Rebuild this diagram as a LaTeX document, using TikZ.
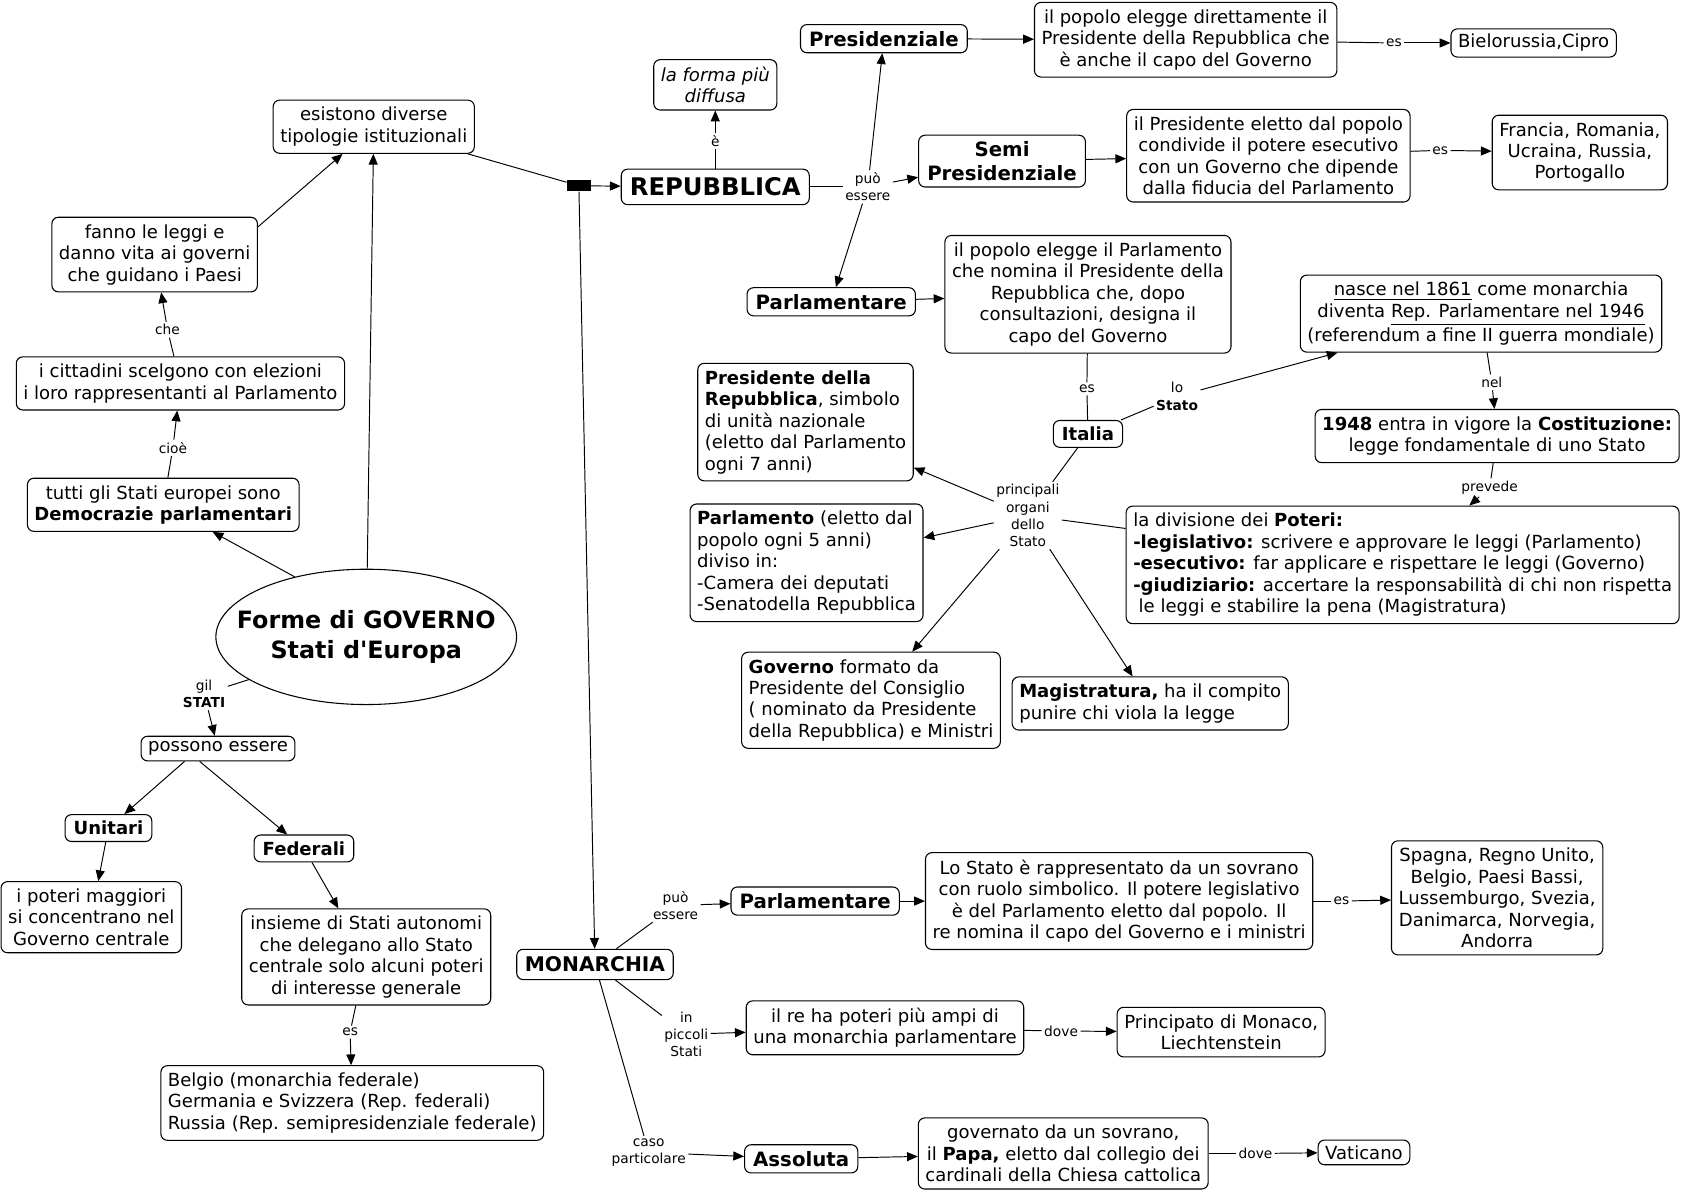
\documentclass[tikz,border=0pt]{standalone}
\usepackage{fontspec}
\setmainfont{DejaVu Sans}
\usetikzlibrary{arrows.meta,shapes.geometric}
\begin{document}
\begin{tikzpicture}[x=0.5pt,y=-0.5pt,
 box/.style={draw,rounded corners=3pt,line width=0.5pt,inner xsep=3.3pt,inner ysep=3.3pt,font=\fontsize{8.4}{10}\selectfont,align=center},
 lbox/.style={box,align=left},
 bbox/.style={box,font=\fontsize{8.4}{10}\selectfont\bfseries,inner xsep=4pt,inner ysep=3pt},
 head/.style={box,font=\fontsize{9.2}{11}\selectfont\bfseries,inner xsep=4pt,inner ysep=3pt},
 lbl/.style={inner sep=1pt,font=\fontsize{6.4}{8}\selectfont,align=center},
 ln/.style={line width=0.45pt},
 arr/.style={ln,-{Triangle[length=5pt,width=4.2pt]}}]

\useasboundingbox (0,0) rectangle (1568,1110);

% ---------- left part ----------
\node[box] (esist) at (348,118) {esistono diverse\\tipologie istituzionali};
\node[box] (fanno) at (144,237) {fanno le leggi e\\danno vita ai governi\\che guidano i Paesi};
\node[box] (citt) at (168,357) {i cittadini scelgono con elezioni\\i loro rappresentanti al Parlamento};
\node[box] (tutti) at (152,470) {tutti gli Stati europei sono\\\textbf{Democrazie parlamentari}};
\node[draw,ellipse,line width=0.5pt,minimum width=140pt,minimum height=63pt,inner sep=0pt,
  label={[align=center,font=\fontsize{11.1}{14}\selectfont\bfseries]center:Forme di GOVERNO\\Stati d\textquotesingle Europa}] (forme) at (341,593) {};
\node[box,inner ysep=2.5pt] (poss) at (203,697) {possono essere};
\node[bbox] (unit) at (101,771) {Unitari};
\node[bbox] (fed) at (283,790) {Federali};
\node[box] (poteri) at (85,854) {i poteri maggiori\\si concentrano nel\\Governo centrale};
\node[box] (insieme) at (341,891) {insieme di Stati autonomi\\che delegano allo Stato\\centrale solo alcuni poteri\\di interesse generale};
\node[lbox] (belgio) at (328,1027) {Belgio (monarchia federale)\\Germania e Svizzera (Rep. federali)\\Russia (Rep. semipresidenziale federale)};

% ---------- junction ----------
\node[fill=black,minimum width=11pt,minimum height=5pt,inner sep=0pt] (junc) at (539,173) {};

% ---------- repubblica ----------
\node[head,font=\fontsize{11.3}{13}\selectfont\bfseries,inner ysep=4pt] (rep) at (666,174) {REPUBBLICA};
\node[box,font=\fontsize{8.4}{10}\selectfont\itshape] (forma) at (666,79) {la forma più\\diffusa};
\node[head] (pres) at (823,36) {Presidenziale};
\node[box] (popdir) at (1104,37) {il popolo elegge direttamente il\\Presidente della Repubblica che\\è anche il capo del Governo};
\node[box,inner ysep=2.5pt] (biel) at (1428,40) {Bielorussia,Cipro};
\node[head] (semi) at (933,150) {Semi\\Presidenziale};
\node[box] (presel) at (1181,145) {il Presidente eletto dal popolo\\condivide il potere esecutivo\\con un Governo che dipende\\dalla fiducia del Parlamento};
\node[box] (fran) at (1471,142) {Francia, Romania,\\Ucraina, Russia,\\Portogallo};
\node[head] (parl) at (774,281) {Parlamentare};
\node[box] (popparl) at (1013,274) {il popolo elegge il Parlamento\\che nomina il Presidente della\\Repubblica che, dopo\\consultazioni, designa il\\capo del Governo};
\node[box] (nasce) at (1379,292) {\underline{nasce nel 1861} come monarchia\\diventa \underline{Rep. Parlamentare nel 1946}\\(referendum a fine II guerra mondiale)};
\node[bbox] (italia) at (1013,404) {Italia};
\node[box] (c1948) at (1394,406) {\textbf{1948} entra in vigore la \textbf{Costituzione:}\\legge fondamentale di uno Stato};
\node[lbox] (presrep) at (750,393) {\textbf{Presidente della}\\\textbf{Repubblica}, simbolo\\di unità nazionale\\(eletto dal Parlamento\\ogni 7 anni)};
\node[lbox] (parlam) at (751,524) {\textbf{Parlamento} (eletto dal\\popolo ogni 5 anni)\\diviso in:\\-Camera dei deputati\\-Senatodella Repubblica};
\node[lbox] (divis) at (1306,526) {la divisione dei \textbf{Poteri:}\\\textbf{-legislativo:} scrivere e approvare le leggi (Parlamento)\\\textbf{-esecutivo:} far applicare e rispettare le leggi (Governo)\\\textbf{-giudiziario:} accertare la responsabilità di chi non rispetta\\\hspace*{0.3em}le leggi e stabilire la pena (Magistratura)};
\node[lbox] (gov) at (811,652) {\textbf{Governo} formato da\\Presidente del Consiglio\\( nominato da Presidente\\della Repubblica) e Ministri};
\node[lbox] (magis) at (1071,655) {\textbf{Magistratura,} ha il compito\\punire chi viola la legge};

% ---------- monarchia ----------
\node[head,font=\fontsize{9.4}{11}\selectfont\bfseries,inner xsep=3.8pt,inner ysep=3.5pt] (mon) at (554,898) {MONARCHIA};
\node[head] (parlm) at (759,839) {Parlamentare};
\node[box] (lostato) at (1042,839) {Lo Stato è rappresentato da un sovrano\\con ruolo simbolico. Il potere legislativo\\è del Parlamento eletto dal popolo. Il\\re nomina il capo del Governo e i ministri};
\node[box] (spagna) at (1394,836) {Spagna, Regno Unito,\\Belgio, Paesi Bassi,\\Lussemburgo, Svezia,\\Danimarca, Norvegia,\\Andorra};
\node[box] (ilre) at (824,957) {il re ha poteri più ampi di\\una monarchia parlamentare};
\node[box] (princ) at (1137,961) {Principato di Monaco,\\Liechtenstein};
\node[head] (ass) at (746,1079) {Assoluta};
\node[box] (govern) at (990,1074) {governato da un sovrano,\\il \textbf{Papa,} eletto dal collegio dei\\cardinali della Chiesa cattolica};
\node[box,inner ysep=2.5pt] (vat) at (1270,1073) {Vaticano};

% ---------- link labels ----------
\node[lbl] (lche) at (156,307) {che};
\node[lbl] (lcioe) at (161,417) {cioè};
\node[lbl] (lgil) at (190,646) {gil\\\textbf{STATI}};
\node[lbl] (les1) at (326,961) {es};
\node[lbl] (le) at (666,131) {è};
\node[lbl] (lpuo) at (808,174) {può\\essere};
\node[lbl] (les2) at (1298,40) {es};
\node[lbl] (les3) at (1341,140) {es};
\node[lbl] (les4) at (1012,362) {es};
\node[lbl] (llo) at (1096,369) {lo\\\textbf{Stato}};
\node[lbl] (lnel) at (1389,356) {nel};
\node[lbl] (lprev) at (1387,454) {prevede};
\node[lbl] (lprin) at (957,480) {principali\\organi\\dello\\Stato};
\node[lbl] (lpuo2) at (629,843) {può\\essere};
\node[lbl] (les5) at (1249,839) {es};
\node[lbl] (lpic) at (639,963) {in\\piccoli\\Stati};
\node[lbl] (ldove1) at (988,960) {dove};
\node[lbl] (lcaso) at (604,1073) {caso\\particolare};
\node[lbl] (ldove2) at (1169,1074) {dove};

% ---------- connectors: left ----------
\draw[ln] (citt) -- (lche);
\draw[arr] (lche) -- (fanno);
\draw[ln] (tutti) -- (lcioe);
\draw[arr] (lcioe) -- (citt);
\draw[arr] (fanno.15) -- (esist.221);
\draw[arr] (forme) -- (esist);
\draw[arr] (forme.140) -- (tutti);
\draw[ln] (forme.200) -- (lgil);
\draw[arr] (lgil) -- (poss);
\draw[arr] (poss.201) -- (unit);
\draw[arr] (poss.215) -- (fed);
\draw[arr] (unit) -- (poteri);
\draw[arr] (fed) -- (insieme);
\draw[ln] (insieme) -- (les1);
\draw[arr] (les1) -- (belgio);

% ---------- connectors: junction ----------
\draw[ln] (esist) -- (junc);
\draw[arr] (junc) -- (rep);
\draw[arr] (junc) -- (mon);

% ---------- connectors: repubblica ----------
\draw[ln] (rep) -- (le);
\draw[arr] (le) -- (forma);
\draw[ln] (rep) -- (lpuo);
\draw[arr] (lpuo) -- (pres);
\draw[arr] (lpuo) -- (semi);
\draw[arr] (lpuo) -- (parl);
\draw[arr] (pres) -- (popdir);
\draw[ln] (popdir) -- (les2);
\draw[arr] (les2) -- (biel);
\draw[arr] (semi) -- (presel);
\draw[ln] (presel) -- (les3);
\draw[arr] (les3) -- (fran);
\draw[arr] (parl) -- (popparl);
\draw[ln] (popparl) -- (les4);
\draw[ln] (les4) -- (italia);
\draw[ln] (italia) -- (llo);
\draw[arr] (llo) -- (nasce);
\draw[ln] (nasce) -- (lnel);
\draw[arr] (lnel) -- (c1948);
\draw[ln] (c1948) -- (lprev);
\draw[arr] (lprev) -- (divis);
\draw[ln] (italia) -- (lprin);
\draw[arr] (lprin) -- (presrep);
\draw[arr] (lprin) -- (parlam);
\draw[arr] (lprin) -- (gov);
\draw[arr] (lprin) -- (magis);
\draw[ln] (lprin) -- (divis);

% ---------- connectors: monarchia ----------
\draw[ln] (mon) -- (lpuo2);
\draw[arr] (lpuo2) -- (parlm);
\draw[arr] (parlm) -- (lostato);
\draw[ln] (lostato) -- (les5);
\draw[arr] (les5) -- (spagna);
\draw[ln] (mon) -- (lpic);
\draw[arr] (lpic) -- (ilre);
\draw[ln] (ilre) -- (ldove1);
\draw[arr] (ldove1) -- (princ);
\draw[ln] (mon) -- (lcaso);
\draw[arr] (lcaso) -- (ass);
\draw[arr] (ass) -- (govern);
\draw[ln] (govern) -- (ldove2);
\draw[arr] (ldove2) -- (vat);
\end{tikzpicture}
\end{document}
